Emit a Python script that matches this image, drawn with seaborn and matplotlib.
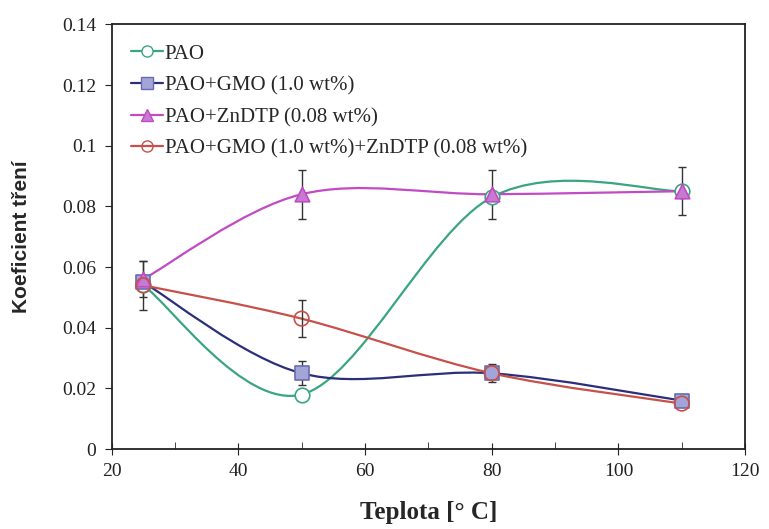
import numpy as np
import pandas as pd
import matplotlib
matplotlib.use("Agg")
import matplotlib.pyplot as plt
from matplotlib.path import Path
from matplotlib.patches import PathPatch
from matplotlib.lines import Line2D
import seaborn as sns

# data
teplota = [25, 50, 80, 110]
pao = [0.054, 0.018, 0.083, 0.085]
pao_gmo = [0.055, 0.025, 0.025, 0.016]
pao_zndtp = [0.056, 0.084, 0.084, 0.085]
pao_gmo_zndtp = [0.054, 0.043, 0.025, 0.015]

err_zndtp = [0.006, 0.008, 0.008, 0.008]
err_gmo = [0.0, 0.004, 0.003, 0.001]
err_both = [0.008, 0.006, 0.0, 0.0]

labels = ["PAO", "PAO+GMO (1.0 wt%)", "PAO+ZnDTP (0.08 wt%)",
          "PAO+GMO (1.0 wt%)+ZnDTP (0.08 wt%)"]

sns.set_style("ticks")
plt.rcParams["font.family"] = ["Liberation Serif", "DejaVu Serif"]


def smooth_path(x, y):
    # Excel-like smoothed line: cubic Bezier through the points
    p = np.column_stack([x, y])
    pts = np.vstack([p[0], p, p[-1]])
    verts = [p[0]]
    codes = [Path.MOVETO]
    for i in range(1, len(pts) - 2):
        c1 = pts[i] + (pts[i + 1] - pts[i - 1]) / 6
        c2 = pts[i + 1] - (pts[i + 2] - pts[i]) / 6
        verts += [c1, c2, pts[i + 1]]
        codes += [Path.CURVE4] * 3
    return Path(verts, codes)


series = [
    (pao, None, "#3aa57f", "o", "white", "#3aa57f"),
    (pao_gmo, err_gmo, "#2b2f7a", "s", "#a3a5d8", "#6a6cb0"),
    (pao_zndtp, err_zndtp, "#c24ac4", "^", "#c67ad2", "#c24ac4"),
    (pao_gmo_zndtp, err_both, "#c8504a", "o", "none", "#c8504a"),
]

fig = plt.figure(figsize=(7.69, 5.29), dpi=100)
ax = fig.add_axes([0.145, 0.151, 0.824, 0.803])

handles = []
for (vals, err, lc, mk, mfc, mec), lab in zip(series, labels):
    ax.add_patch(PathPatch(smooth_path(teplota, vals), fill=False,
                           edgecolor=lc, lw=1.6, zorder=2))
    if err is not None:
        ax.errorbar(teplota, vals, yerr=err, fmt="none", ecolor="#333333",
                    elinewidth=1, capsize=3, zorder=3)
    df = pd.DataFrame({"x": teplota, "y": vals})
    sns.scatterplot(data=df, x="x", y="y", ax=ax, marker=mk, s=110,
                    facecolor=mfc, edgecolor=mec, linewidth=1.2, zorder=4,
                    legend=False)
    handles.append(Line2D([], [], color=lc, marker=mk, markersize=8,
                          markerfacecolor=mfc, markeredgecolor=mec, lw=1.6))

ax.set_xlim(20, 120)
ax.set_ylim(0, 0.14)
ax.set_xticks([20, 40, 60, 80, 100, 120])
ax.set_xticks([30, 50, 70, 90, 110], minor=True)
ax.set_yticks([0, 0.02, 0.04, 0.06, 0.08, 0.1, 0.12, 0.14])
ax.set_yticklabels(["0", "0.02", "0.04", "0.06", "0.08", "0.1", "0.12", "0.14"])
ax.tick_params(axis="x", which="major", direction="inout", length=8,
               labelsize=14, colors="#222222", pad=6)
ax.tick_params(axis="x", which="minor", direction="in", length=5)
ax.tick_params(axis="y", direction="out", length=5, labelsize=14,
               colors="#222222", pad=6)
for s in ax.spines.values():
    s.set_visible(True)
    s.set_color("#222222")
    s.set_linewidth(1.3)

ax.set_xlabel("Teplota [° C]", fontsize=18, fontweight="bold", labelpad=15)
ax.set_ylabel("Koeficient tření", fontsize=15, fontweight="bold",
              family=["Liberation Sans Narrow", "Liberation Sans", "DejaVu Sans"],
              labelpad=22)

ax.legend(handles, labels, loc="upper left", frameon=False, fontsize=15,
          handlelength=1.5, handletextpad=0.1, labelspacing=0.58,
          borderaxespad=0.55, bbox_to_anchor=(0.0, 1.0))

plt.savefig("out.png", dpi=100)
plt.close()
